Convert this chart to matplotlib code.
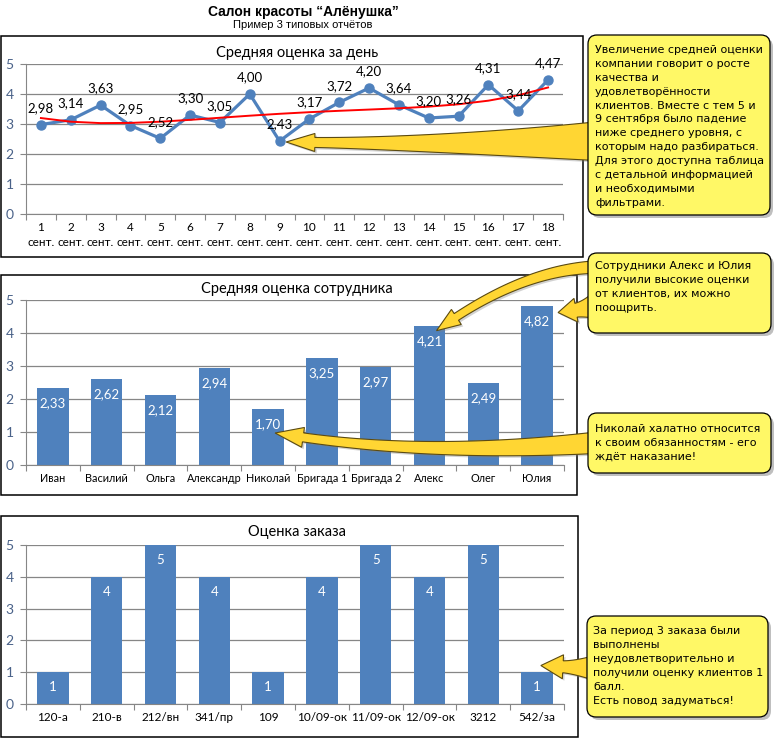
import numpy as np
import matplotlib
matplotlib.use("Agg")
from matplotlib import pyplot as plt
from matplotlib import patches

plt.rcParams['font.family'] = ['Lato', 'DejaVu Sans']

# данные
days = [str(d) + '\nсент.' for d in range(1, 19)]
day_score = [2.98, 3.14, 3.63, 2.95, 2.52, 3.30, 3.05, 4.00, 2.43,
             3.17, 3.72, 4.20, 3.64, 3.20, 3.26, 4.31, 3.44, 4.47]

staff = ['Иван', 'Василий', 'Ольга', 'Александр', 'Николай',
         'Бригада 1', 'Бригада 2', 'Алекс', 'Олег', 'Юлия']
staff_score = [2.33, 2.62, 2.12, 2.94, 1.70, 3.25, 2.97, 4.21, 2.49, 4.82]

orders = ['120-а', '210-в', '212/вн', '341/пр', '109',
          '10/09-ок', '11/09-ок', '12/09-ок', '3212', '542/за']
order_score = [1, 4, 5, 4, 1, 4, 5, 4, 5, 1]

BLUE = '#4F81BD'
GRID = '#868686'
TICK = '#4A6289'
NARROW = ['Liberation Sans Narrow', 'DejaVu Sans Condensed', 'Liberation Sans', 'DejaVu Sans']
W, H = 775, 746

fig = plt.figure(figsize=(7.75, 7.46), dpi=100)


def fr(x0, y0, x1, y1):
    return [x0 / W, 1 - y1 / H, (x1 - x0) / W, (y1 - y0) / H]


def style(ax, labels, lsize, pad):
    n = len(labels)
    ax.set_xlim(-0.5, n - 0.5)
    ax.set_ylim(0, 5)
    ax.set_yticks(range(6))
    ax.grid(axis='y', color=GRID, lw=0.9)
    ax.set_axisbelow(True)
    for s in ['top', 'right']:
        ax.spines[s].set_visible(False)
    for s in ['left', 'bottom']:
        ax.spines[s].set_color(GRID)
    ax.set_xticks(np.arange(-0.5, n))
    ax.set_xticklabels([])
    ax.set_xticks(range(n), minor=True)
    ax.set_xticklabels(labels, minor=True, fontsize=lsize)
    ax.tick_params(axis='x', which='major', length=4, color=GRID)
    ax.tick_params(axis='x', which='minor', length=0, pad=pad)
    ax.tick_params(axis='y', length=4, color=GRID, labelcolor=TICK,
                   labelsize=10, pad=5)


# --- график 1
ax1 = fig.add_axes(fr(26, 64, 563, 214))
x = np.arange(len(day_score))
ax1.plot(x, day_score, color=BLUE, lw=2.3, marker='o', ms=6.5, zorder=3)
k = np.polyfit(x, day_score, 4)
ax1.plot(x, np.polyval(k, x), color='red', lw=1.4, zorder=4)
for i, v in enumerate(day_score):
    ax1.annotate(f'{v:.2f}'.replace('.', ','), (i, v), xytext=(0, 12),
                 textcoords='offset points', ha='center', va='center',
                 fontsize=9.5, zorder=5)
style(ax1, days, 8.5, 6)
for t in ax1.get_xticklabels(minor=True):
    t.set_linespacing(1.4)

# --- график 2
ax2 = fig.add_axes(fr(26, 300, 564, 465))
ax2.bar(range(len(staff)), staff_score, width=0.58, color=BLUE)
for i, v in enumerate(staff_score):
    ax2.annotate(f'{v:.2f}'.replace('.', ','), (i, v), xytext=(0, -11),
                 textcoords='offset points', ha='center', va='center',
                 fontsize=9.5, color='white')
style(ax2, staff, 7.8, 6)

# --- график 3
ax3 = fig.add_axes(fr(26, 545, 564, 704))
ax3.bar(range(len(orders)), order_score, width=0.58, color=BLUE)
for i, v in enumerate(order_score):
    ax3.annotate(str(v), (i, v), xytext=(0, -11), textcoords='offset points',
                 ha='center', va='center', fontsize=9.5, color='white')
style(ax3, orders, 8.5, 6)

# --- слой для рамок, выносок и стрелок (координаты в пикселях)
ov = fig.add_axes([0, 0, 1, 1], zorder=10)
ov.set_xlim(0, W)
ov.set_ylim(H, 0)
ov.axis('off')
ov.patch.set_visible(False)

for (x0, y0, x1, y1) in [(1, 36, 583, 257), (1, 275, 577, 495), (1, 516, 578, 737)]:
    ov.add_patch(patches.Rectangle((x0, y0), x1 - x0, y1 - y0, fill=False,
                                   ec='black', lw=1.1))

ov.text(303, 12, 'Салон красоты “Алёнушка”', ha='center', va='center',
        fontsize=10, fontweight='bold', family=NARROW)
ov.text(303, 25, 'Пример 3 типовых отчётов', ha='center', va='center',
        fontsize=8, family=NARROW)
ov.text(297, 53, 'Средняя оценка за день', ha='center', va='center', fontsize=10.5)
ov.text(297, 289, 'Средняя оценка сотрудника', ha='center', va='center', fontsize=10.5)
ov.text(297, 532, 'Оценка заказа', ha='center', va='center', fontsize=10.5)


def to_px(ax, xy):
    return ov.transData.inverted().transform(ax.transData.transform(xy))


def gradient(patch, ext, c_top, c_bot, z):
    g = np.linspace(0, 1, 64)[:, None]
    a = np.array(matplotlib.colors.to_rgb(c_top))
    b = np.array(matplotlib.colors.to_rgb(c_bot))
    img = (1 - g)[:, :, None] * a + g[:, :, None] * b
    im = ov.imshow(img, extent=ext, aspect='auto', zorder=z, interpolation='bilinear')
    im.set_clip_path(patch)


def arrow(p0, c, ax, xy, w0, w1, hl, hw, pw=1.5):
    p0 = np.array(p0, float)
    c = np.array(c, float)
    p2 = to_px(ax, xy)
    t = np.linspace(0, 1, 400)[:, None]
    pts = (1 - t) ** 2 * p0 + 2 * (1 - t) * t * c + t ** 2 * p2
    s = np.concatenate([[0], np.cumsum(np.hypot(*np.diff(pts, axis=0).T))])
    L = s[-1]
    m = s <= L - hl
    body = pts[m]
    sb = s[m] / (L - hl)
    d = np.gradient(body, axis=0)
    d /= np.hypot(d[:, 0], d[:, 1])[:, None]
    nrm = np.column_stack([-d[:, 1], d[:, 0]])
    w = w1 + (w0 - w1) * (1 - sb) ** pw
    left = body + nrm * w[:, None] / 2
    right = body - nrm * w[:, None] / 2
    b, n = body[-1], nrm[-1]
    poly = np.vstack([left, b + n * hw / 2, p2, b - n * hw / 2, right[::-1]])
    ov.add_patch(patches.Polygon(poly + [2, 2], closed=True, fc='#808080',
                                 ec='none', alpha=0.35, zorder=2))
    pg = patches.Polygon(poly, closed=True, fc='#FFD633', ec='#5A4A14', lw=0.8, zorder=4)
    ov.add_patch(pg)
    ext = (poly[:, 0].min(), poly[:, 0].max(), poly[:, 1].max(), poly[:, 1].min())
    gradient(pg, ext, '#FFF27A', '#FFC000', 3)


def callout(x0, y0, x1, y1, lines, tx, ty):
    sh = patches.FancyBboxPatch((x0 + 3, y0 + 3), x1 - x0, y1 - y0,
                                boxstyle='round,pad=0,rounding_size=9',
                                fc='#8C8C8C', ec='none', alpha=0.55, zorder=5)
    ov.add_patch(sh)
    bx = patches.FancyBboxPatch((x0, y0), x1 - x0, y1 - y0,
                                boxstyle='round,pad=0,rounding_size=9',
                                fc='#FFF866', ec='black', lw=0.9, zorder=7)
    ov.add_patch(bx)
    gradient(bx, (x0, x1, y1, y0), '#FFFF8A', '#FFEE4A', 6)
    for i, s in enumerate(lines):
        ov.text(tx, ty + i * 13.9, s, ha='left', va='center', fontsize=8,
                family='DejaVu Sans', zorder=8)


arrow((605, 141), (450, 145), ax1, (8.22, 2.40), 40, 10, 28, 18)
arrow((605, 267), (525, 266), ax2, (7.13, 4.07), 13, 8, 24, 18)
arrow((605, 303), (585, 310), ax2, (9.39, 4.62), 36, 14, 18, 24)
arrow((605, 442), (420, 458), ax2, (4.13, 0.97), 22, 9, 28, 20)
arrow((605, 668), (580, 668), ax3, (9.07, 1.21), 32, 12, 22, 24)

callout(588, 35, 770, 215, ['Увеличение средней оценки', 'компании говорит о росте',
                            'качества и', 'удовлетворённости',
                            'клиентов. Вместе с тем 5 и', '9 сентября было падение',
                            'ниже среднего уровня, с', 'которым надо разбираться.',
                            'Для этого доступна таблица', 'с детальной информацией',
                            'и необходимыми', 'фильтрами.'], 595, 50)
callout(588, 253, 771, 333, ['Сотрудники Алекс и Юлия', 'получили высокие оценки',
                             'от клиентов, их можно', 'поощрить.'], 595, 266)
callout(588, 413, 771, 473, ['Николай халатно относится', 'к своим обязанностям - его',
                             'ждёт наказание!'], 595, 429)
callout(587, 616, 768, 717, ['За период 3 заказа были', 'выполнены',
                             'неудовлетворительно и', 'получили оценку клиентов 1',
                             'балл.', 'Есть повод задуматься!'], 593, 631)

fig.savefig('out.png', dpi=100)
